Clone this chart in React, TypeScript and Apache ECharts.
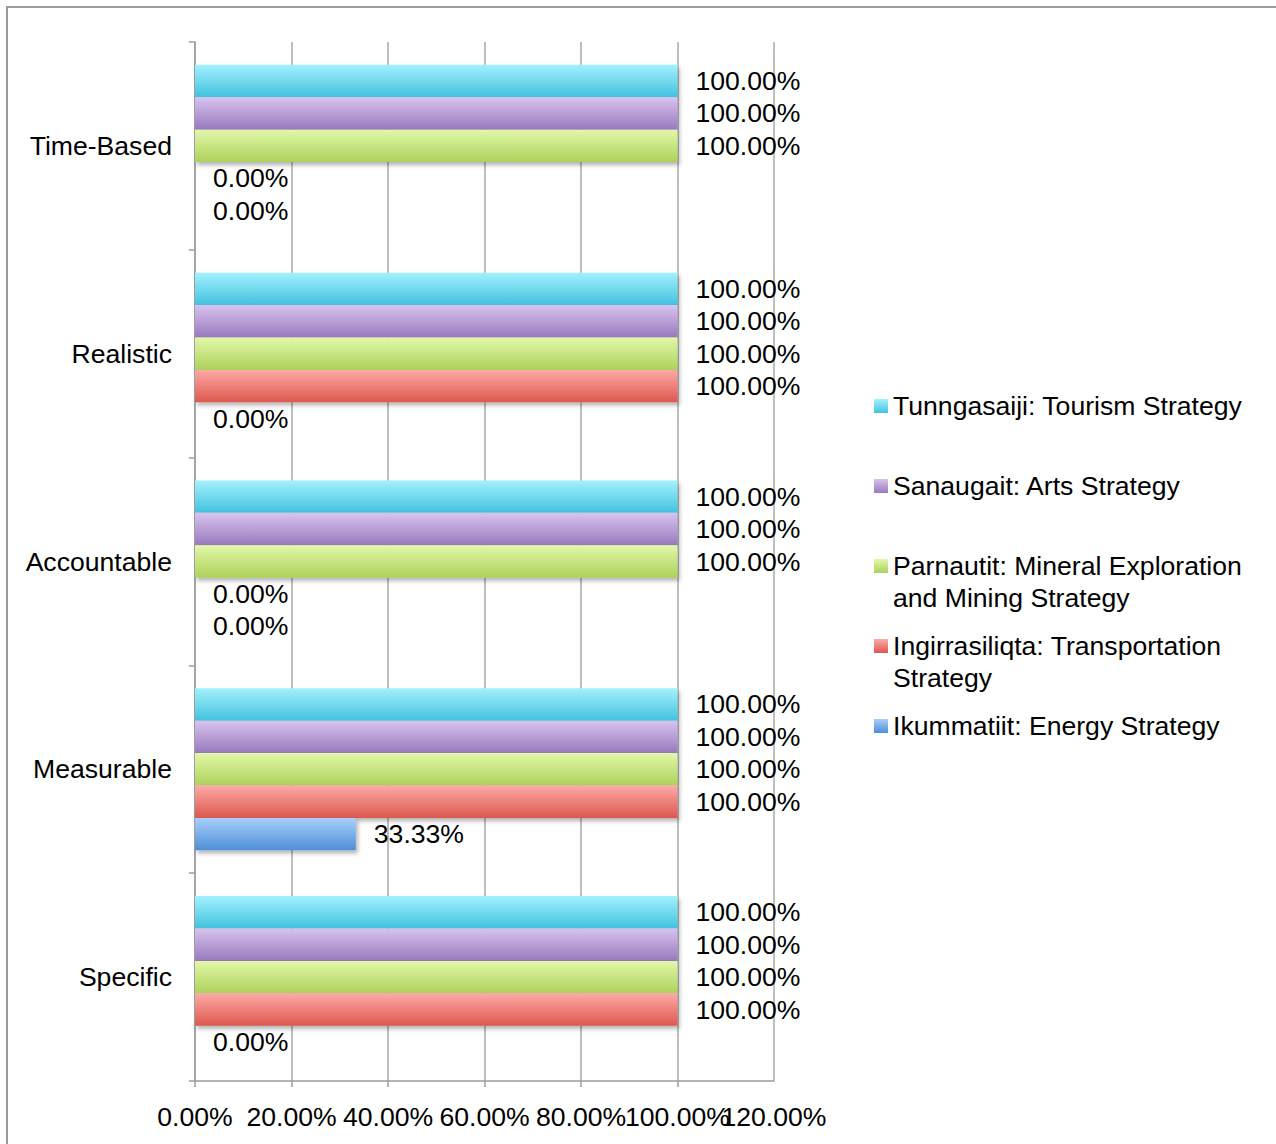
import React, { useEffect, useRef } from "react";
import * as echarts from "echarts";

const categories = ["Specific", "Measurable", "Accountable", "Realistic", "Time-Based"];
const seriesNames = [
  "Tunngasaiji: Tourism Strategy",
  "Sanaugait: Arts Strategy",
  "Parnautit: Mineral Exploration and Mining Strategy",
  "Ingirrasiliqta: Transportation Strategy",
  "Ikummatiit: Energy Strategy",
];
const legendLines = [
  ["Tunngasaiji: Tourism Strategy"],
  ["Sanaugait: Arts Strategy"],
  ["Parnautit: Mineral Exploration", "and Mining Strategy"],
  ["Ingirrasiliqta: Transportation", "Strategy"],
  ["Ikummatiit: Energy Strategy"],
];
// values in percent, order follows categories (bottom to top)
const tunngasaiji = [100, 100, 100, 100, 100];
const sanaugait = [100, 100, 100, 100, 100];
const parnautit = [100, 100, 100, 100, 100];
const ingirrasiliqta = [100, 100, 0, 100, 0];
const ikummatiit = [0, 33.33, 0, 0, 0];
const seriesValues = [tunngasaiji, sanaugait, parnautit, ingirrasiliqta, ikummatiit];
const xMin = 0;
const xMax = 120;
const xStep = 20;

const gradTop = ["#a3f1fd", "#d8c3ef", "#e2f8a9", "#fdaaa7", "#a9d0fc"];
const gradBottom = ["#42c2df", "#9879bd", "#acd15c", "#dc584e", "#4d8ed6"];

const FONT = "'Liberation Sans', Arial, Helvetica, sans-serif";
const FS = 26.6;
const GRID_LEFT = 195;
const GRID_TOP = 42;
const GRID_W = 579;
const GRID_H = 1039;
const AXIS_COLOR = "#9c9c9c";

const fmt = (v: number) => Number(v).toFixed(2) + "%";

const grad = (i: number) =>
  new echarts.graphic.LinearGradient(0, 0, 0, 1, [
    { offset: 0, color: gradTop[i] },
    { offset: 1, color: gradBottom[i] },
  ]);

export default function App() {
  const ref = useRef<HTMLDivElement>(null);

  useEffect(() => {
    if (!ref.current) return;
    const chart = echarts.init(ref.current, null, { renderer: "svg" });

    const legendGraphics: any[] = [];
    const legendX = 874;
    const legendFirst = 406;
    const legendStep = 80;
    legendLines.forEach((lines, i) => {
      const cy = legendFirst + i * legendStep;
      legendGraphics.push({
        type: "rect",
        x: 0,
        y: 0,
        shape: { x: legendX, y: cy - 7, width: 14, height: 14 },
        style: { fill: grad(i) },
        silent: true,
      });
      legendGraphics.push({
        type: "text",
        x: legendX + 19,
        y: cy - 16,
        style: {
          text: lines.join("\n"),
          fontSize: FS,
          fontFamily: FONT,
          lineHeight: 32,
          fill: "#000",
          verticalAlign: "top",
        },
        silent: true,
      });
    });

    const labelBase = {
      show: true,
      fontSize: FS,
      fontFamily: FONT,
      color: "#000",
      margin: 22,
      hideOverlap: false,
    };

    const option: any = {
      animation: false,
      backgroundColor: "#ffffff",
      textStyle: { fontFamily: FONT },
      grid: { left: GRID_LEFT, top: GRID_TOP, width: GRID_W, height: GRID_H, containLabel: false },
      xAxis: [
        {
          type: "value",
          min: xMin,
          max: xMax,
          interval: xStep,
          axisLine: { show: true, lineStyle: { color: AXIS_COLOR, width: 1.5 } },
          axisTick: { show: true, length: 6, lineStyle: { color: AXIS_COLOR, width: 1.5 } },
          splitLine: { show: true, lineStyle: { color: "#a8a8a8", width: 1.5 } },
          axisLabel: {
            ...labelBase,
            showMinLabel: true,
            showMaxLabel: false,
            formatter: (v: number) => fmt(v),
          },
        },
        {
          type: "value",
          position: "bottom",
          min: xMin,
          max: xMax,
          interval: xStep,
          axisLine: { show: false },
          axisTick: { show: false },
          splitLine: { show: false },
          axisLabel: {
            ...labelBase,
            showMinLabel: true,
            showMaxLabel: true,
            formatter: (v: number) => (v === xMax ? fmt(v) : ""),
          },
        },
      ],
      yAxis: {
        type: "category",
        data: categories,
        axisLine: { show: true, lineStyle: { color: AXIS_COLOR, width: 1.5 } },
        axisTick: { show: true, length: 6, lineStyle: { color: AXIS_COLOR, width: 1.5 } },
        splitLine: { show: false },
        axisLabel: {
          fontSize: FS,
          fontFamily: FONT,
          color: "#000",
          margin: 23,
        },
      },
      series: seriesNames.map((name, i) => ({
        name,
        type: "bar",
        xAxisIndex: 0,
        data: seriesValues[i],
        barGap: "0%",
        barCategoryGap: "22%",
        itemStyle: {
          color: grad(i),
          shadowBlur: 4,
          shadowOffsetX: 2,
          shadowOffsetY: 3,
          shadowColor: "rgba(0,0,0,0.3)",
        },
        label: {
          show: true,
          position: "right",
          distance: 18,
          fontSize: FS,
          fontFamily: FONT,
          color: "#000",
          formatter: (p: any) => fmt(p.value),
        },
      })),
      graphic: [
        {
          type: "rect",
          x: 0,
          y: 0,
          shape: { x: 7, y: 7, width: 1300, height: 1200 },
          style: { fill: "none", stroke: "#9a9a9a", lineWidth: 2 },
          silent: true,
          z: 100,
        },
        ...legendGraphics,
      ],
    };

    chart.setOption(option);
    return () => chart.dispose();
  }, []);

  return (
    <div
      ref={ref}
      style={{ position: "fixed", left: 0, top: 0, width: 1276, height: 1144, background: "#fff" }}
    />
  );
}
